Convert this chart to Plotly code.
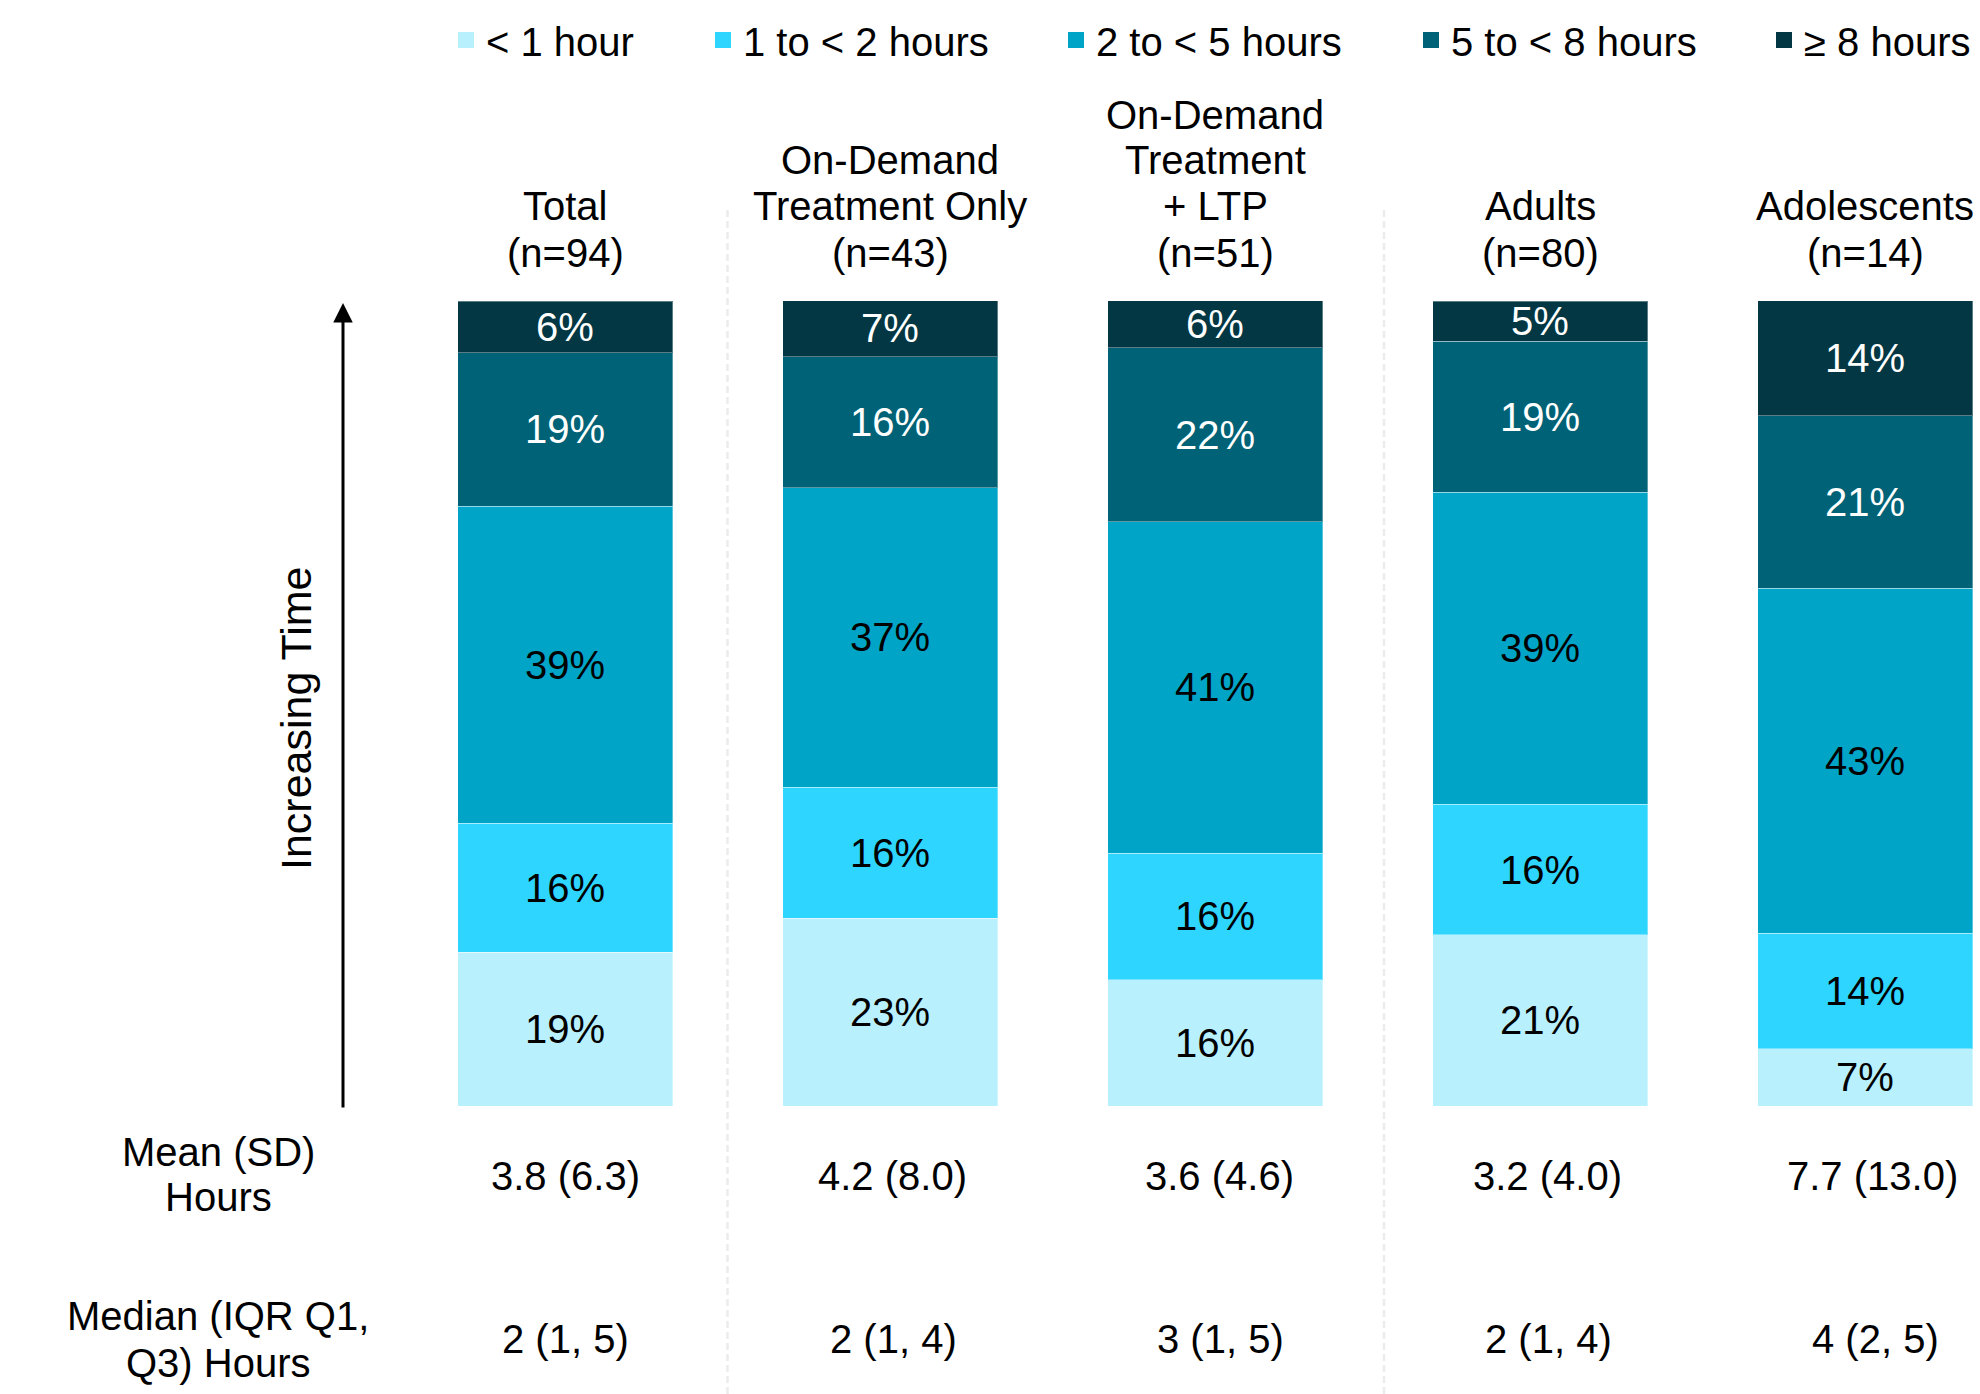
import plotly.graph_objects as go

# ---------------- data ----------------
categories = ["Total", "On-Demand Treatment Only", "On-Demand Treatment + LTP", "Adults", "Adolescents"]
title_lines = [
    ["Total", "(n=94)"],
    ["On-Demand", "Treatment Only", "(n=43)"],
    ["On-Demand", "Treatment", "+ LTP", "(n=51)"],
    ["Adults", "(n=80)"],
    ["Adolescents", "(n=14)"],
]
series_names = ["< 1 hour", "1 to < 2 hours", "2 to < 5 hours", "5 to < 8 hours", "≥ 8 hours"]
lt1 = [19.1, 23.3, 15.7, 21.25, 7.14]
h1to2 = [16.0, 16.3, 15.7, 16.25, 14.29]
h2to5 = [39.4, 37.2, 41.2, 38.75, 42.86]
h5to8 = [19.1, 16.3, 21.6, 18.75, 21.43]
ge8 = [6.4, 7.0, 5.9, 5.0, 14.29]
series_values = [lt1, h1to2, h2to5, h5to8, ge8]
mean_sd = ["3.8 (6.3)", "4.2 (8.0)", "3.6 (4.6)", "3.2 (4.0)", "7.7 (13.0)"]
median_iqr = ["2 (1, 5)", "2 (1, 4)", "3 (1, 5)", "2 (1, 4)", "4 (2, 5)"]
row_labels = [["Mean (SD)", "Hours"], ["Median (IQR Q1,", "Q3) Hours"]]
y_axis_label = "Increasing Time"

# ---------------- style ----------------
colors = ["#B8F1FD", "#2ED5FF", "#00A4C7", "#006276", "#023743"]
text_colors = ["#000000", "#000000", "#000000", "#FFFFFF", "#FFFFFF"]
FONT = "Liberation Sans, Arial, sans-serif"
FS = 40
W, H = 1980, 1394
PLOT_TOP, PLOT_BOTTOM = 301, 1106
mean_xshift = [0, 2, 4, 7, 7]
median_xshift = [0, 3, 5, 8, 10]


def py(p):
    return (PLOT_BOTTOM - p) / (PLOT_BOTTOM - PLOT_TOP)


def px(p):
    return p / W


fig = go.Figure()
for name, vals, col, tcol in zip(series_names, series_values, colors, text_colors):
    fig.add_trace(go.Bar(
        x=categories, y=vals, name=name,
        marker=dict(color=col, line=dict(color="rgba(255,255,255,0.35)", width=1)),
        texttemplate="%{y:.0f}%", textposition="inside", insidetextanchor="middle",
        textfont=dict(family=FONT, size=FS, color=tcol),
        constraintext="none", showlegend=False, hoverinfo="skip",
    ))

# legend entries (one legend per entry to match spacing)
legend_sym_x = [466, 723, 1076, 1431, 1784]
layout_legends = {}
for i, (name, col) in enumerate(zip(series_names, colors)):
    key = "legend" if i == 0 else f"legend{i+1}"
    fig.add_trace(go.Scatter(
        x=[None], y=[None], mode="markers", name=name,
        marker=dict(symbol="square", size=20, color=col),
        legend=key, showlegend=True,
    ))
    layout_legends[key] = dict(
        x=px(legend_sym_x[i] - 20), y=py(40), xanchor="left", yanchor="middle",
        font=dict(family=FONT, size=FS, color="#000000"),
        bgcolor="rgba(0,0,0,0)", borderwidth=0, itemwidth=30,
    )

annotations = []
# category titles
line_y = [115, 160, 206, 253]
for cat, lines in zip(categories, title_lines):
    ys = line_y[-len(lines):]
    for t, yy in zip(lines, ys):
        annotations.append(dict(x=cat, xref="x", y=py(yy), yref="paper", text=t,
                                showarrow=False, xanchor="center", yanchor="middle",
                                font=dict(family=FONT, size=FS, color="#000")))
# stats rows
for cat, m, md, xs1, xs2 in zip(categories, mean_sd, median_iqr, mean_xshift, median_xshift):
    annotations.append(dict(x=cat, xref="x", y=py(1176), yref="paper", text=m, showarrow=False,
                            xanchor="center", yanchor="middle", xshift=xs1,
                            font=dict(family=FONT, size=FS, color="#000")))
    annotations.append(dict(x=cat, xref="x", y=py(1339), yref="paper", text=md, showarrow=False,
                            xanchor="center", yanchor="middle", xshift=xs2,
                            font=dict(family=FONT, size=FS, color="#000")))
for lines, ys in zip(row_labels, [[1152, 1197], [1316, 1363]]):
    for t, yy in zip(lines, ys):
        annotations.append(dict(x=px(218), xref="paper", y=py(yy), yref="paper", text=t,
                                showarrow=False, xanchor="center", yanchor="middle",
                                font=dict(family=FONT, size=FS, color="#000")))
# y label
annotations.append(dict(x=px(296), xref="paper", y=py(718), yref="paper", text=y_axis_label,
                        textangle=-90, showarrow=False, xanchor="center", yanchor="middle",
                        font=dict(family=FONT, size=43, color="#000")))
# arrow
annotations.append(dict(x=px(343), xref="paper", y=py(303), yref="paper", text="",
                        showarrow=True, ax=0, ay=806, axref="pixel", ayref="pixel",
                        arrowhead=2, arrowsize=1.3, arrowwidth=3, arrowcolor="#000", standoff=0))

shapes = []
for xv in [0.5, 2.52]:
    shapes.append(dict(type="line", xref="x", yref="paper", x0=xv, x1=xv,
                       y0=py(1394), y1=py(207),
                       line=dict(color="#ECECEC", width=2.5, dash="7px,4px")))

unit = 325.0
r0 = -565.0 / unit
r1 = r0 + W / unit

fig.update_layout(
    width=W, height=H, barmode="stack", bargap=1 - 215 / unit,
    margin=dict(l=0, r=0, t=PLOT_TOP, b=H - PLOT_BOTTOM, pad=0),
    paper_bgcolor="white", plot_bgcolor="white",
    xaxis=dict(range=[r0, r1], showticklabels=False, showgrid=False, zeroline=False,
               showline=False, ticks=""),
    yaxis=dict(range=[0, 100], showticklabels=False, showgrid=False, zeroline=False,
               showline=False, ticks=""),
    uniformtext=dict(minsize=FS, mode="show"),
    annotations=annotations, shapes=shapes,
    font=dict(family=FONT, size=FS, color="#000"),
    **layout_legends,
)

fig.write_html("out.html")
